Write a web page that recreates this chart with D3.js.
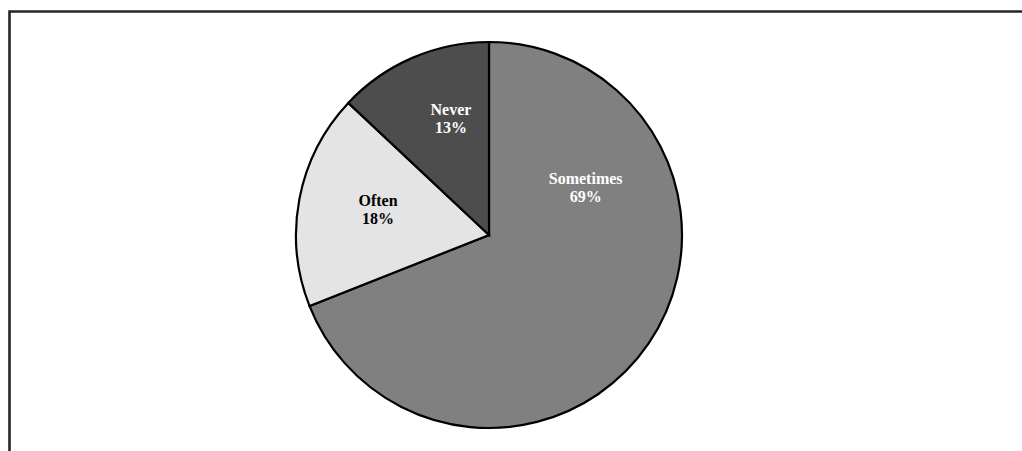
<!DOCTYPE html>
<html>
<head>
<meta charset="utf-8">
<script src="https://cdn.jsdelivr.net/npm/d3@7/dist/d3.min.js"></script>
<style>
  html, body { margin: 0; padding: 0; background: #fff; }
  svg { display: block; }
</style>
</head>
<body>
<svg id="chart" width="1022" height="451"></svg>
<script>
// Response frequency shares
const categories = ["Sometimes", "Often", "Never"];
const shares = [69, 18, 13];
const fills = ["#808080", "#e4e4e4", "#4d4d4d"];
const labelColors = ["#ffffff", "#000000", "#ffffff"];

const W = 1022, H = 451;
const cx = 489, cy = 235, R = 193;

const svg = d3.select("#chart");

// chart area frame (extends past the right and bottom edges of the page)
svg.append("path")
  .attr("d", `M9.5,${H + 5} L9.5,11.5 L${W + 5},11.5`)
  .attr("fill", "none")
  .attr("stroke", "#262626")
  .attr("stroke-width", 2.6);

const data = categories.map((c, i) => ({ name: c, value: shares[i], fill: fills[i], color: labelColors[i] }));

const pie = d3.pie().value(d => d.value).sort(null);
const arcs = pie(data);

const arc = d3.arc().innerRadius(0).outerRadius(R);

const g = svg.append("g").attr("transform", `translate(${cx},${cy})`);

g.selectAll("path.slice")
  .data(arcs)
  .join("path")
  .attr("class", "slice")
  .attr("d", arc)
  .attr("fill", d => d.data.fill)
  .attr("stroke", "#000")
  .attr("stroke-width", 2.2)
  .attr("stroke-linejoin", "miter");

// label placement: angle (radians, clockwise from 12 o'clock) and radius
function labelPoint(d) {
  let a, r;
  if (d.data.name === "Sometimes") {
    a = 63.5 * Math.PI / 180; r = 108;
  } else if (d.data.name === "Never") {
    a = 342 * Math.PI / 180; r = 123;
  } else {
    a = 283.2 * Math.PI / 180; r = 114;
  }
  return [r * Math.sin(a), -r * Math.cos(a)];
}

const labels = g.selectAll("text.lbl")
  .data(arcs)
  .join("text")
  .attr("class", "lbl")
  .attr("transform", d => `translate(${labelPoint(d)})`)
  .attr("text-anchor", "middle")
  .attr("font-family", "'Liberation Serif', 'Times New Roman', serif")
  .attr("font-weight", "bold")
  .attr("font-size", 16)
  .attr("fill", d => d.data.color);

labels.append("tspan")
  .attr("x", 0)
  .attr("y", -3)
  .text(d => d.data.name);

labels.append("tspan")
  .attr("x", 0)
  .attr("y", 15)
  .text(d => d.data.value + "%");
</script>
</body>
</html>
